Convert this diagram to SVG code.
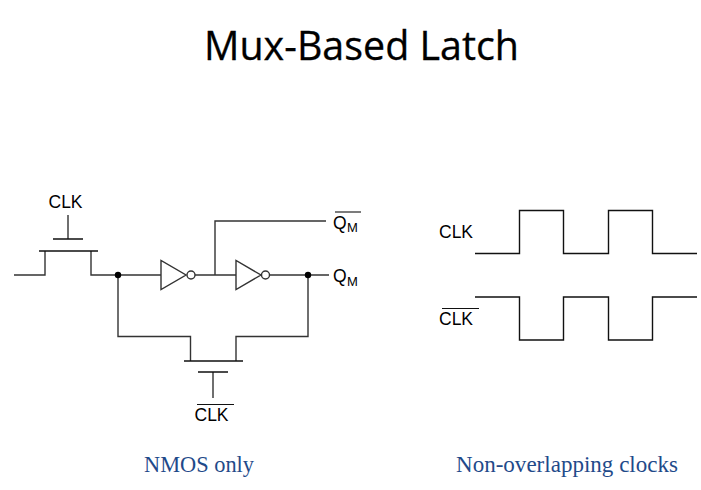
<svg xmlns="http://www.w3.org/2000/svg" width="701" height="490" viewBox="0 0 701 490">
<style>
.w{fill:none;stroke:#333;stroke-width:1.4}
.g{fill:none;stroke:#111;stroke-width:1.5}
.d{fill:#000}
.wave{fill:none;stroke:#111;stroke-width:1.4}
.l{font-family:"Liberation Sans",Arial,sans-serif;font-size:17.500px;fill:#000}
.s{font-family:"Liberation Sans",Arial,sans-serif;font-size:13px;fill:#000}
.c{font-family:"Liberation Serif","Times New Roman",serif;font-size:22.500px;fill:#1f4a8a;text-anchor:middle}
.o{stroke:#111;stroke-width:1.100;fill:none}
</style>
<rect width="701" height="490" fill="#fff"/>
<text id="title" x="361.500" y="60" text-anchor="middle" font-family="'Open Sans','Noto Sans',sans-serif" font-size="39.500" fill="#000" stroke="#000" stroke-width="0.300" textLength="315" lengthAdjust="spacingAndGlyphs">Mux-Based Latch</text>
<g id="connectors">
<path class="w" d="M14 275H45V251M91 251V275H161"/>
<path class="w" d="M118 275V336.500H190.500V361M236 361V336.500H308V275"/>
<path class="w" d="M195 275H236M215 275V221H326"/>
<path class="w" d="M270 275H329"/>
<path class="w" d="M68 215V239M213 372V398"/>
<circle class="d" cx="118" cy="275" r="3.200"/>
<circle class="d" cx="308" cy="275" r="3.200"/>
</g>
<g id="nmos-top"><path class="g" d="M39 251H98M53 239H83"/><text class="l" x="48.500" y="208">CLK</text></g>
<g id="nmos-bottom"><path class="g" d="M184 361H243M198 372H228"/><text class="l" x="194.500" y="421">CLK</text><path class="o" d="M197 404.500H234"/></g>
<g id="inv1"><path class="w" d="M161 260.500V289.500L186 275Z"/><circle class="w" cx="191" cy="275" r="4"/></g>
<g id="inv2"><path class="w" d="M236 260.500V289.500L261 275Z"/><circle class="w" cx="265.500" cy="275" r="4"/></g>
<g id="qmbar"><text class="l" x="333" y="228.500">Q</text><text class="s" x="347" y="232">M</text><path class="o" d="M335 212H361"/></g>
<g id="qm"><text class="l" x="333" y="282">Q</text><text class="s" x="347" y="285.500">M</text></g>
<g id="wave-clk"><text class="l" x="439" y="238">CLK</text><path class="wave" d="M475 253.500H519.500V210.500H563.500V253.500H608.500V210.500H652.500V253.500H697"/></g>
<g id="wave-clkbar"><text class="l" x="439" y="324.500">CLK</text><path class="o" d="M442 308.500H479"/><path class="wave" d="M475 297H519.500V340H563.500V297H608.500V340H652.500V297H697"/></g>
<text id="cap1" class="c" x="199" y="472" textLength="110" lengthAdjust="spacingAndGlyphs">NMOS only</text>
<text id="cap2" class="c" x="567" y="472" textLength="222" lengthAdjust="spacingAndGlyphs">Non-overlapping clocks</text>
</svg>
